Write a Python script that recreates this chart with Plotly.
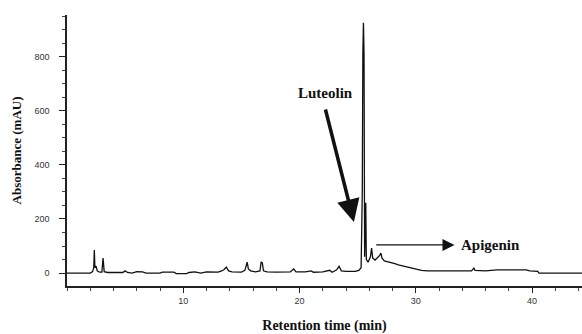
import plotly.graph_objects as go

# Retention time (min) and absorbance (mAU)
time_min = [0.0, 2.0, 2.2, 2.3, 2.35, 2.4, 2.5, 2.6, 2.8, 3.0, 3.1, 3.2, 3.5, 4.8, 5.0, 5.2, 5.6,
            6.0, 6.5, 6.8, 8.0, 8.2, 9.2, 9.4, 10.3, 10.5, 11.0, 11.5, 12.0, 13.0, 13.3, 13.5,
            13.7, 13.9, 14.2, 15.0, 15.3, 15.5, 15.6, 15.8, 16.2, 16.6, 16.7, 16.8, 16.9, 17.2,
            18.0, 19.2, 19.5, 19.7, 20.5, 21.0, 21.2, 22.0, 22.6, 22.8, 23.2, 23.4, 23.6, 24.0,
            24.8, 25.1, 25.3, 25.4, 25.45, 25.5, 25.55, 25.6, 25.7, 25.75, 25.9, 26.1, 26.2,
            26.3, 26.5, 26.7, 26.9, 27.0, 27.1, 27.3, 27.8, 28.2, 28.5, 29.0, 29.5, 30.0, 30.5,
            31.0, 32.0, 33.0, 34.0, 34.8, 35.0, 35.1, 36.0, 37.0, 39.5, 39.8, 40.5, 40.6, 44.3]
absorbance = [0, 0, 5, 20, 85, 20, 25, 8, 3, 3, 55, 5, 2, 2, 8, 2, 0,
              5, 4, 0, 0, 3, 3, -2, -2, 2, 4, 0, 4, 3, 8, 12,
              22, 8, 4, 3, 10, 40, 15, 8, 4, 8, 40, 38, 8, 4,
              3, 4, 15, 4, 4, 8, 3, 4, 10, 3, 12, 25, 8, 6,
              6, 10, 20, 300, 815, 926, 815, 60, 260, 50, 40, 60, 92,
              55, 48, 55, 65, 74, 55, 45, 40, 35, 30, 25, 20, 15, 10,
              8, 8, 6, 6, 8, 18, 10, 8, 12, 12, 8, 6, 0, 0]

x_ticks = [10, 20, 30, 40]
y_ticks = [0, 200, 400, 600, 800]

serif = "Liberation Serif"

fig = go.Figure()
fig.add_trace(go.Scatter(x=time_min, y=absorbance, mode="lines",
                         line=dict(color="#111111", width=1.3), hoverinfo="skip",
                         showlegend=False))

fig.update_layout(
    width=582, height=334,
    margin=dict(l=67, r=0, t=15, b=48),
    paper_bgcolor="white", plot_bgcolor="white",
    xaxis=dict(range=[0, 44.3], tickvals=x_ticks, showgrid=False, zeroline=False,
               showline=True, linecolor="#222", linewidth=1.5,
               ticks="outside", ticklen=5, tickcolor="#222",
               tickfont=dict(family="Liberation Sans", size=9, color="#333"),
               minor=dict(dtick=2, tick0=0, ticks="outside", ticklen=3, tickcolor="#444"),
               title=dict(text="<b>Retention time (min)</b>",
                          font=dict(family=serif, size=14, color="#111"), standoff=16)),
    yaxis=dict(range=[-48, 955], tickvals=y_ticks, showgrid=False, zeroline=False,
               showline=True, linecolor="#222", linewidth=1.5,
               ticks="outside", ticklen=6, tickcolor="#222", ticklabelstandoff=8,
               tickfont=dict(family="Liberation Sans", size=9, color="#333"),
               minor=dict(dtick=50, tick0=0, ticks="outside", ticklen=3, tickcolor="#444"),
               title=dict(text="<b>Absorbance (mAU)</b>",
                          font=dict(family=serif, size=13, color="#111"), standoff=10)),
)

fig.add_annotation(x=24.68, y=189, xref="x", yref="y", ax=22.2, ay=611, axref="x", ayref="y",
                   showarrow=True, arrowhead=2, arrowsize=1.3, arrowwidth=3.5, arrowcolor="#111",
                   text="")
fig.add_annotation(x=22.2, y=667, xref="x", yref="y", showarrow=False,
                   text="<b>Luteolin</b>", font=dict(family=serif, size=15, color="#111"))
fig.add_annotation(x=33.33, y=104, xref="x", yref="y", ax=26.47, ay=104, axref="x", ayref="y",
                   showarrow=True, arrowhead=2, arrowsize=2, arrowwidth=1.2, arrowcolor="#111",
                   text="")
fig.add_annotation(x=36.43, y=104, xref="x", yref="y", showarrow=False,
                   text="<b>Apigenin</b>", font=dict(family=serif, size=15, color="#111"))

fig.write_html("out.html")
